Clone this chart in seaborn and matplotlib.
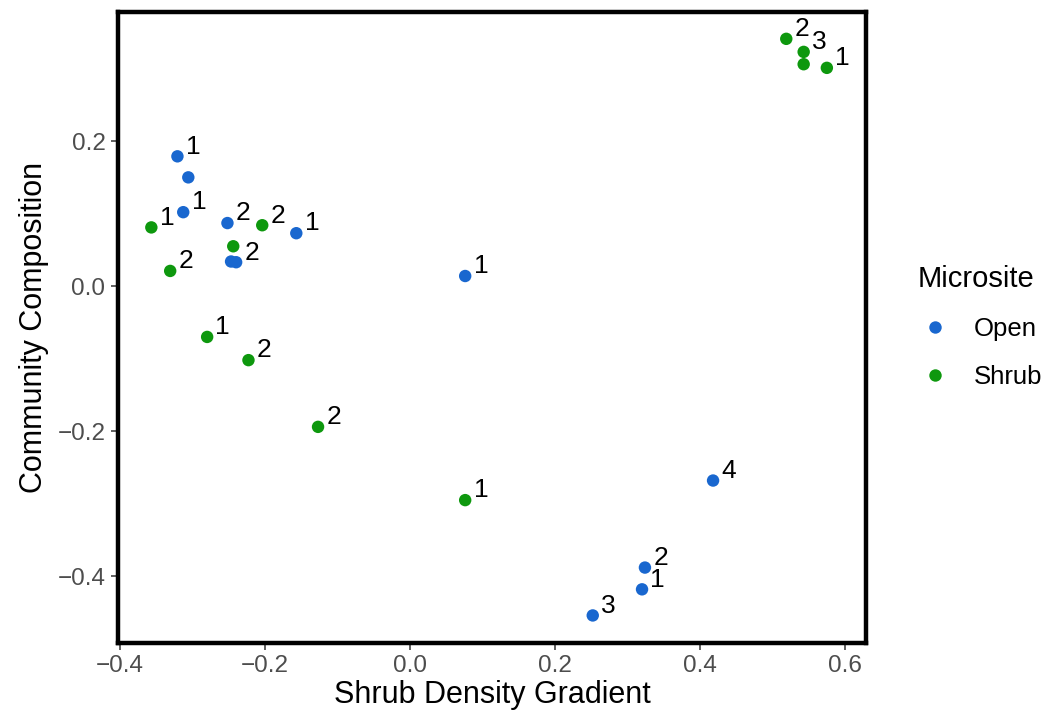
import matplotlib
matplotlib.use("Agg")
import matplotlib.pyplot as plt
import seaborn as sns
import pandas as pd

# ---- data ----
gradient = [-0.321, -0.306, -0.313, -0.252, -0.247, -0.240, -0.157, 0.076, 0.418, 0.324, 0.320, 0.252,
            -0.357, -0.331, -0.204, -0.244, -0.280, -0.223, -0.127, 0.076, 0.519, 0.543, 0.543, 0.575]
composition = [0.179, 0.150, 0.102, 0.087, 0.034, 0.033, 0.073, 0.014, -0.268, -0.388, -0.418, -0.454,
               0.081, 0.021, 0.084, 0.055, -0.070, -0.102, -0.194, -0.295, 0.341, 0.323, 0.306, 0.301]
microsite = ["Open"] * 12 + ["Shrub"] * 12
point_labels = ["1", "", "1", "2", "", "2", "1", "1", "4", "2", "1", "3",
                "1", "2", "2", "", "1", "2", "2", "1", "2", "3", "", "1"]
x_ticks = [-0.4, -0.2, 0.0, 0.2, 0.4, 0.6]
y_ticks = [-0.4, -0.2, 0.0, 0.2]
colors = {"Open": "#1967CF", "Shrub": "#0E980E"}

df = pd.DataFrame({"x": gradient, "y": composition, "Microsite": microsite, "lab": point_labels})

sns.set_theme(style="white")
plt.rcParams["font.family"] = ["Liberation Sans", "DejaVu Sans"]
plt.rcParams["text.color"] = "black"

fig = plt.figure(figsize=(10.52, 7.24), dpi=100)
ax = fig.add_axes([118 / 1052, 1 - 643 / 724, (866 - 118) / 1052, (643 - 12) / 724])

sns.scatterplot(data=df, x="x", y="y", hue="Microsite", palette=colors, s=80,
                edgecolor="none", ax=ax, legend=True)

for _, r in df.iterrows():
    if r["lab"]:
        ax.annotate(r["lab"], (r["x"], r["y"]), xytext=(6.0, 7.0), textcoords="offset points",
                    ha="left", va="center", fontsize=19, color="black")

ax.set_xlim(-0.403, 0.629)
ax.set_ylim(-0.492, 0.378)
ax.set_xticks(x_ticks)
ax.set_yticks(y_ticks)
ax.set_xticklabels([f"{v:.1f}".replace("-", "\u2212") for v in x_ticks])
ax.set_yticklabels([f"{v:.1f}".replace("-", "\u2212") for v in y_ticks])
ax.tick_params(axis="both", direction="out", length=5, width=1.1, color="#333333",
               labelsize=17.5, labelcolor="#4d4d4d", bottom=True, left=True, pad=4)
for sp in ax.spines.values():
    sp.set_visible(True)
    sp.set_color("black")
    sp.set_linewidth(3.2)

ax.set_xlabel("Shrub Density Gradient", fontsize=22, color="black", labelpad=2)
ax.set_ylabel("Community Composition", fontsize=22, color="black", labelpad=6)

handles, labels = ax.get_legend_handles_labels()
leg = ax.legend(handles, labels, title="Microsite", frameon=False, fontsize=18.5,
                title_fontsize=21, loc="center left", bbox_to_anchor=(894 / 1052, 1 - 327 / 724),
                bbox_transform=fig.transFigure, handletextpad=0.8, handlelength=1.4,
                labelspacing=0.95, markerscale=1.0)
leg._legend_box.align = "left"
leg.get_title().set_color("black")
for t in leg.get_texts():
    t.set_color("black")

fig.savefig("out.png", dpi=100)
